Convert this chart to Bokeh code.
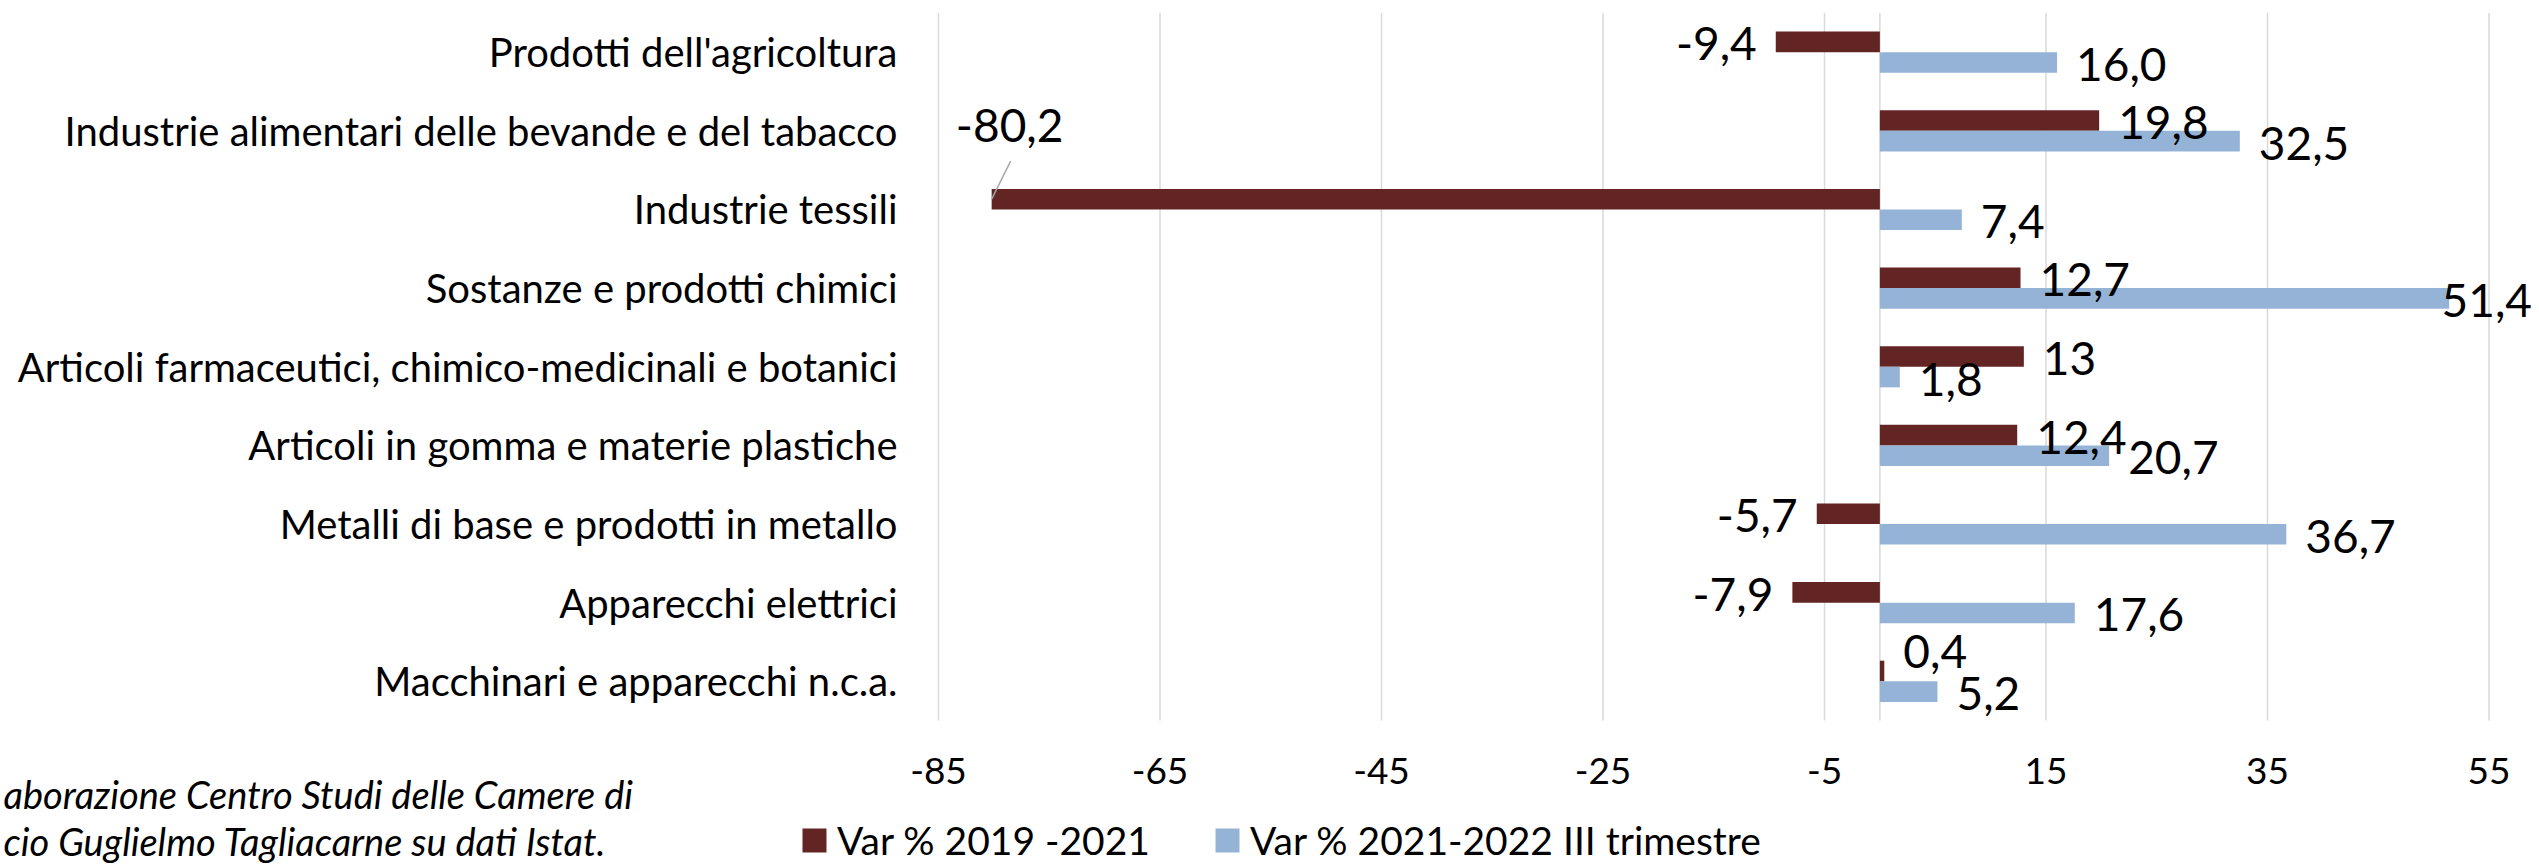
from bokeh.plotting import figure
from bokeh.models import (ColumnDataSource, Range1d, FixedTicker,
                          LabelSet, Label, Legend, LegendItem)
from bokeh.core.properties import value
from bokeh.embed import file_html
from bokeh.resources import INLINE

# ---------------- data ----------------
categories = [
    "Prodotti dell'agricoltura",
    "Industrie alimentari delle bevande e del tabacco",
    "Industrie tessili",
    "Sostanze e prodotti chimici",
    "Articoli farmaceutici, chimico-medicinali e botanici",
    "Articoli in gomma e materie plastiche",
    "Metalli di base e prodotti in metallo",
    "Apparecchi elettrici",
    "Macchinari e apparecchi n.c.a.",
]
var_2019_2021 = [-9.4, 19.8, -80.2, 12.7, 13.0, 12.4, -5.7, -7.9, 0.4]
var_2021_2022 = [16.0, 32.5, 7.4, 51.4, 1.8, 20.7, 36.7, 17.6, 5.2]
labels_2019_2021 = ["-9,4", "19,8", "-80,2", "12,7", "13", "12,4", "-5,7", "-7,9", "0,4"]
labels_2021_2022 = ["16,0", "32,5", "7,4", "51,4", "1,8", "20,7", "36,7", "17,6", "5,2"]
x_ticks = [-85, -65, -45, -25, -5, 15, 35, 55]
series_names = ["Var % 2019 -2021", "Var % 2021-2022 III trimestre"]
source_lines = ["aborazione Centro Studi delle Camere di",
                "cio Guglielmo Tagliacarne su dati Istat."]

# ---------------- layout / style ----------------
MAROON = "#632523"
BLUE = "#95B3D7"
GRID = "#D9D9D9"
FONT = "Lato"
W, H = 2539, 867
PLOT_L, PLOT_R = 938.0, 2488.5      # pixel extent of the value axis (-85 .. 55)
PLOT_T, PLOT_B = 12.4, 720.1        # pixel extent of the category band
N = len(categories)
PPU = (PLOT_R - PLOT_L) / (x_ticks[-1] - x_ticks[0])
PITCH = (PLOT_B - PLOT_T) / N
BAR = 0.262

# category i (top first) sits at y = N-1-i
ypos = [N - 1 - i for i in range(N)]
y_lo, y_hi = -0.5, N - 0.5

x_range = Range1d(x_ticks[0] - PLOT_L / PPU, x_ticks[-1] + (W - PLOT_R) / PPU)
y_range = Range1d(y_lo - (H - PLOT_B) / PITCH, y_hi + PLOT_T / PITCH)

p = figure(width=W, height=H, x_range=x_range, y_range=y_range,
           output_backend="svg", toolbar_location=None)
p.min_border_left = p.min_border_right = p.min_border_top = p.min_border_bottom = 0
p.outline_line_color = None
p.xgrid.visible = False
p.ygrid.visible = False
p.background_fill_color = "white"
p.border_fill_color = "white"

# axes (drawn at the edges of the chart area)
p.xaxis.fixed_location = y_lo
p.xaxis.ticker = FixedTicker(ticks=x_ticks)
p.xaxis.major_label_overrides = {t: str(t) for t in x_ticks}
p.yaxis.fixed_location = x_ticks[0]
p.yaxis.ticker = FixedTicker(ticks=ypos)
p.yaxis.major_label_overrides = {y: c for y, c in zip(ypos, categories)}
for ax in (p.xaxis[0], p.yaxis[0]):
    ax.axis_line_color = None
    ax.major_tick_line_color = None
    ax.minor_tick_line_color = None
    ax.major_tick_in = 0
    ax.major_tick_out = 0
    ax.major_label_text_font = FONT
    ax.major_label_text_color = "black"
p.yaxis.major_label_text_font_size = "40px"
p.yaxis.major_label_standoff = 41
p.xaxis.major_label_text_font_size = "37px"
p.xaxis.major_label_standoff = 37

# vertical gridlines and zero (category axis) line, over the category band
grid_x = x_ticks + [0]
p.segment(x0=grid_x, x1=grid_x, y0=[y_lo] * len(grid_x), y1=[y_hi] * len(grid_x),
          line_color=GRID, line_width=1.5)

# bars
src = ColumnDataSource(dict(y=ypos, s1=var_2019_2021, s2=var_2021_2022,
                            y1=[y + BAR / 2 for y in ypos], y2=[y - BAR / 2 for y in ypos]))
r1 = p.hbar(y="y1", left=0, right="s1", height=BAR, fill_color=MAROON, line_color=None, source=src)
r2 = p.hbar(y="y2", left=0, right="s2", height=BAR, fill_color=BLUE, line_color=None, source=src)

# value labels
GAP = 19
manual = {  # (series, category index) -> (align, dx, dy): labels moved by hand in the original
    (0, 2): ("center", 18, 74),
    (0, 8): ("left", GAP, 19),
}


def label_source(si, vals, labs, dd):
    xs, ys, xo, yo, al = [], [], [], [], []
    for ci, (v, t) in enumerate(zip(vals, labs)):
        x = v
        if v >= 0:
            a, dx = "left", GAP
        else:
            a, dx = "right", -GAP
        dy = -2
        # a label that would run off the chart is pulled back against the right edge
        if v > x_ticks[-1] - 8:
            x, a, dx = x_ticks[-1], "right", 43
        if (si, ci) in manual:
            a, dx, dy = manual[(si, ci)]
        xs.append(x); ys.append(ypos[ci] + dd); xo.append(dx); yo.append(dy); al.append(a)
    return ColumnDataSource(dict(x=xs, y=ys, text=labs, xo=xo, yo=yo, al=al))


for si, (vals, labs, dd) in enumerate([(var_2019_2021, labels_2019_2021, BAR / 2),
                                       (var_2021_2022, labels_2021_2022, -BAR / 2)]):
    p.add_layout(LabelSet(x="x", y="y", text="text", x_offset="xo", y_offset="yo",
                          text_align="al", text_baseline="middle",
                          text_font=value(FONT), text_font_size="46px", text_color="black",
                          source=label_source(si, vals, labs, dd)))

# leader line for the moved -80,2 label
ti = 2
p.segment(x0=[var_2019_2021[ti]], y0=[ypos[ti] + BAR / 2],
          x1=[var_2019_2021[ti] + 19 / PPU], y1=[ypos[ti] + BAR / 2 + 38 / PITCH],
          line_color="#A6A6A6", line_width=1.5)

# legends (one box per series)
for name, rend, lx in [(series_names[0], r1, 799), (series_names[1], r2, 1212)]:
    p.add_layout(Legend(items=[LegendItem(label=name, renderers=[rend])], location=(lx, 4),
                        orientation="horizontal", glyph_width=30, glyph_height=30,
                        label_standoff=8, padding=0, margin=0, border_line_color=None,
                        background_fill_alpha=0, label_text_font=FONT,
                        label_text_font_size="39px", label_text_color="black"))

# source note (left part of the original is cut off)
for line, yy in zip(source_lines, [74, 27]):
    p.add_layout(Label(x=3, y=yy, x_units="screen", y_units="screen", text=line,
                       text_font=FONT, text_font_style="italic", text_font_size="38px",
                       text_baseline="alphabetic", text_color="black"))

open("out.html", "w").write(file_html(p, INLINE))
